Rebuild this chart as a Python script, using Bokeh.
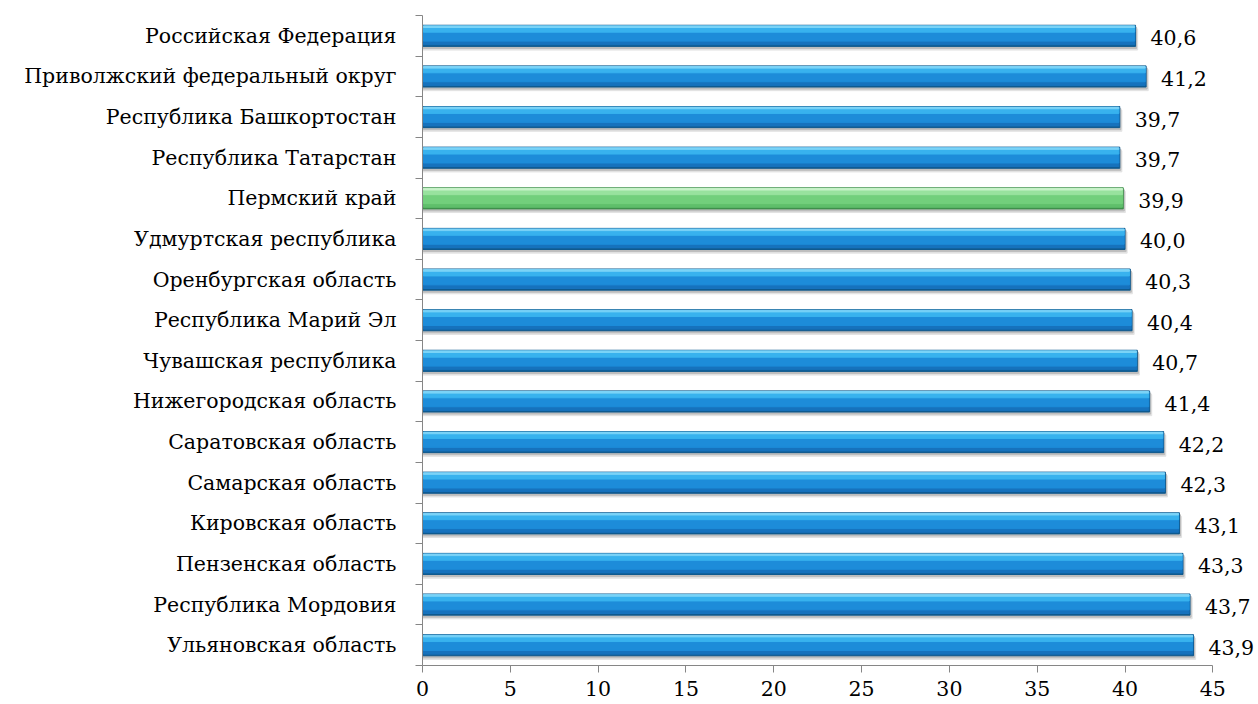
from bokeh.plotting import figure
from bokeh.models import FixedTicker, Range1d
from bokeh.core.properties import value
from bokeh.embed import file_html
from bokeh.resources import INLINE

categories = [
    "Российская Федерация",
    "Приволжский федеральный округ",
    "Республика Башкортостан",
    "Республика Татарстан",
    "Пермский край",
    "Удмуртская республика",
    "Оренбургская область",
    "Республика Марий Эл",
    "Чувашская республика",
    "Нижегородская область",
    "Саратовская область",
    "Самарская область",
    "Кировская область",
    "Пензенская область",
    "Республика Мордовия",
    "Ульяновская область",
]
values = [40.6, 41.2, 39.7, 39.7, 39.9, 40.0, 40.3, 40.4, 40.7, 41.4, 42.2, 42.3, 43.1, 43.3, 43.7, 43.9]
highlight = "Пермский край"
x_ticks = [0, 5, 10, 15, 20, 25, 30, 35, 40, 45]

n = len(categories)
ys = [n - 1 - i for i in range(n)]
labels = [f"{v:.1f}".replace(".", ",") for v in values]

FONT = "DejaVu Serif"
FS = "20.5px"

p = figure(width=1258, height=704, output_backend="svg", toolbar_location=None,
           x_range=Range1d(0, 47.6), y_range=Range1d(-0.5, n - 0.5),
           min_border_left=422, min_border_top=15, min_border_bottom=39, min_border_right=0)
p.outline_line_color = None
p.xgrid.grid_line_color = None
p.ygrid.grid_line_color = None
p.background_fill_color = "white"
p.border_fill_color = "white"

blue = dict(border="#0f5a8f", low="#1672bd", main="#1d8cd9", light="#38b2ee", top="#7bd3f7")
green = dict(border="#3f8f4c", low="#5fbf6b", main="#72cf7c", light="#98e29e", top="#c8f2c9")

def bars(idx, pal):
    yy = [ys[i] for i in idx]
    vv = [values[i] for i in idx]
    H = 0.52
    p.hbar(y=[y - 0.09 for y in yy], right=[v + 0.12 for v in vv], left=0, height=H, color="#e2e2e2")
    p.hbar(y=[y - 0.05 for y in yy], right=[v + 0.06 for v in vv], left=0, height=H, color="#bdbdbd")
    p.hbar(y=yy, right=vv, left=0, height=H, color=pal["border"])
    p.hbar(y=[y + 0.01 for y in yy], right=[v - 0.05 for v in vv], left=0.05, height=H - 0.06, color=pal["low"])
    p.hbar(y=[y + 0.05 for y in yy], right=[v - 0.05 for v in vv], left=0.05, height=H - 0.16, color=pal["main"])
    p.hbar(y=[y + 0.15 for y in yy], right=[v - 0.05 for v in vv], left=0.05, height=0.12, color=pal["light"])
    p.hbar(y=[y + 0.225 for y in yy], right=[v - 0.05 for v in vv], left=0.05, height=0.04, color=pal["top"])

blue_idx = [i for i, c in enumerate(categories) if c != highlight]
green_idx = [i for i, c in enumerate(categories) if c == highlight]
bars(blue_idx, blue)
bars(green_idx, green)

p.text(x=values, y=[y - 0.05 for y in ys], text=labels, x_offset=15,
       text_font=value(FONT), text_baseline="middle", text_align="left",
       text_font_size=FS, text_color="black")

ya = p.yaxis[0]
ya.ticker = FixedTicker(ticks=ys, minor_ticks=[y - 0.5 for y in ys] + [n - 0.5])
ya.major_label_overrides = {y: c for y, c in zip(ys, categories)}
ya.major_tick_in = 0
ya.major_tick_out = 0
ya.minor_tick_in = 0
ya.minor_tick_out = 7
ya.minor_tick_line_color = "#868686"
ya.axis_line_color = "#868686"
ya.major_label_text_font = FONT
ya.major_label_text_font_size = FS
ya.major_label_text_color = "black"
ya.major_label_standoff = 19

xa = p.xaxis[0]
xa.ticker = FixedTicker(ticks=x_ticks, minor_ticks=[])
xa.bounds = (0, 45)
xa.major_tick_in = 0
xa.major_tick_out = 7
xa.major_tick_line_color = "#868686"
xa.axis_line_color = "#868686"
xa.major_label_text_font = FONT
xa.major_label_text_font_size = FS
xa.major_label_text_color = "black"
xa.major_label_standoff = 8

open("out.html", "w").write(file_html(p, INLINE))
